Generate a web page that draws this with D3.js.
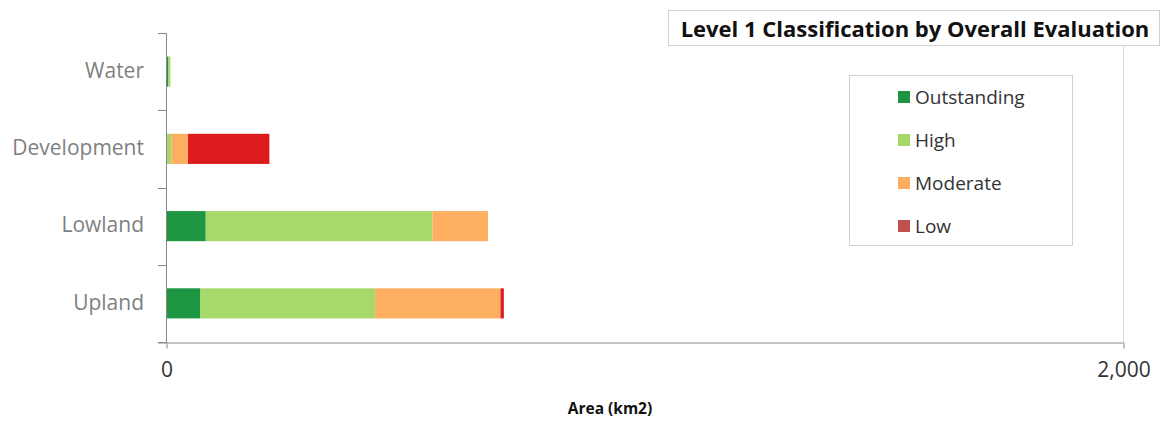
<!DOCTYPE html>
<html><head><meta charset="utf-8">
<script src="https://cdn.jsdelivr.net/npm/d3@7"></script>
<style>body{margin:0;background:#fff}svg{display:block}</style>
</head><body>
<svg id="c" width="1164" height="421"></svg>
<script>
const categories = ["Water", "Development", "Lowland", "Upland"];
const seriesNames = ["Outstanding", "High", "Moderate", "Low"];
const outstanding = [4, 0, 82, 71];
const high = [4, 10, 474, 365];
const moderate = [0, 35, 116, 262];
const low = [0, 170, 0, 7];
const xTicks = [0, 2000];
const barColors = ["#1e9641", "#a6d96a", "#fdae61", "#dc1c1c"];
const legendColors = ["#1e9641", "#a6d96a", "#fdae61", "#c0504d"];

const rows = categories.map((c, i) => ({cat: c, Outstanding: outstanding[i], High: high[i], Moderate: moderate[i], Low: low[i]}));
const stack = d3.stack().keys(seriesNames)(rows);

const svg = d3.select("#c");
const x = d3.scaleLinear().domain([0, 2000]).range([166.5, 1123.5]);
const y = d3.scaleBand().domain(categories).range([33, 342]).paddingInner(0.61).paddingOuter(0.305);
const FONT = "'Open Sans', sans-serif";

// gridline at 2000
svg.append("line").attr("x1", x(2000)).attr("x2", x(2000)).attr("y1", 45).attr("y2", 342)
  .attr("stroke", "#d9d9d9").attr("stroke-width", 1);

// bars
svg.append("g").selectAll("g").data(stack).join("g")
  .attr("fill", (d, i) => barColors[i])
  .selectAll("rect").data(d => d).join("rect")
  .attr("x", d => x(d[0])).attr("width", d => x(d[1]) - x(d[0]))
  .attr("y", d => y(d.data.cat)).attr("height", y.bandwidth());

// y axis
const band = y.step();
const yAxisG = svg.append("g");
yAxisG.append("line").attr("x1", 166.5).attr("x2", 166.5).attr("y1", 33).attr("y2", 342).attr("stroke", "#888");
const yTickPos = d3.range(categories.length + 1).map(i => 33 + i * band);
yAxisG.selectAll(".yt").data(yTickPos).join("line")
  .attr("x1", 158).attr("x2", 166.5).attr("y1", d => Math.round(d) + 0.5).attr("y2", d => Math.round(d) + 0.5).attr("stroke", "#888");
yAxisG.selectAll("text").data(categories).join("text")
  .attr("x", 144).attr("y", d => y(d) + y.bandwidth() / 2 - 1).attr("dy", "0.35em")
  .attr("text-anchor", "end").attr("fill", "#7f7f7f")
  .style("font-family", FONT).style("font-size", "21px").text(d => d);

// x axis
const xAxis = d3.axisBottom(x).tickValues(xTicks).tickSize(6).tickFormat(d3.format(","));
const xg = svg.append("g").attr("transform", "translate(0,342.5)").call(xAxis);
xg.select(".domain").attr("stroke", "#888").attr("d", `M${158},0.5H${x(2000)}`);
xg.selectAll(".tick line").attr("stroke", "#888");
xg.selectAll(".tick text").attr("fill", "#333").attr("y", 20)
  .style("font-family", FONT).style("font-size", "21px");

// axis title
svg.append("text").attr("x", 610).attr("y", 414).attr("text-anchor", "middle")
  .attr("fill", "#111").style("font-family", FONT).style("font-weight", "bold").style("font-size", "15.5px")
  .text("Area (km2)");

// title box
svg.append("rect").attr("x", 668.5).attr("y", 10.5).attr("width", 491).attr("height", 35)
  .attr("fill", "#fff").attr("stroke", "#d0d0d0");
svg.append("text").attr("x", 915).attr("y", 29).attr("dy", "0.35em").attr("text-anchor", "middle")
  .attr("fill", "#111").style("font-family", FONT).style("font-weight", "bold").style("font-size", "22px")
  .text("Level 1 Classification by Overall Evaluation");

// legend
svg.append("rect").attr("x", 849.5).attr("y", 75.5).attr("width", 223).attr("height", 170)
  .attr("fill", "#fff").attr("stroke", "#d0d0d0");
const lg = svg.append("g").selectAll("g").data(seriesNames).join("g")
  .attr("transform", (d, i) => `translate(898,${97 + i * 43})`);
lg.append("rect").attr("x", 0).attr("y", -6).attr("width", 12).attr("height", 12).attr("fill", (d, i) => legendColors[i]);
lg.append("text").attr("x", 17).attr("y", 0).attr("dy", "0.35em").attr("fill", "#333")
  .style("font-family", FONT).style("font-size", "19px").text(d => d);
</script>
</body></html>
